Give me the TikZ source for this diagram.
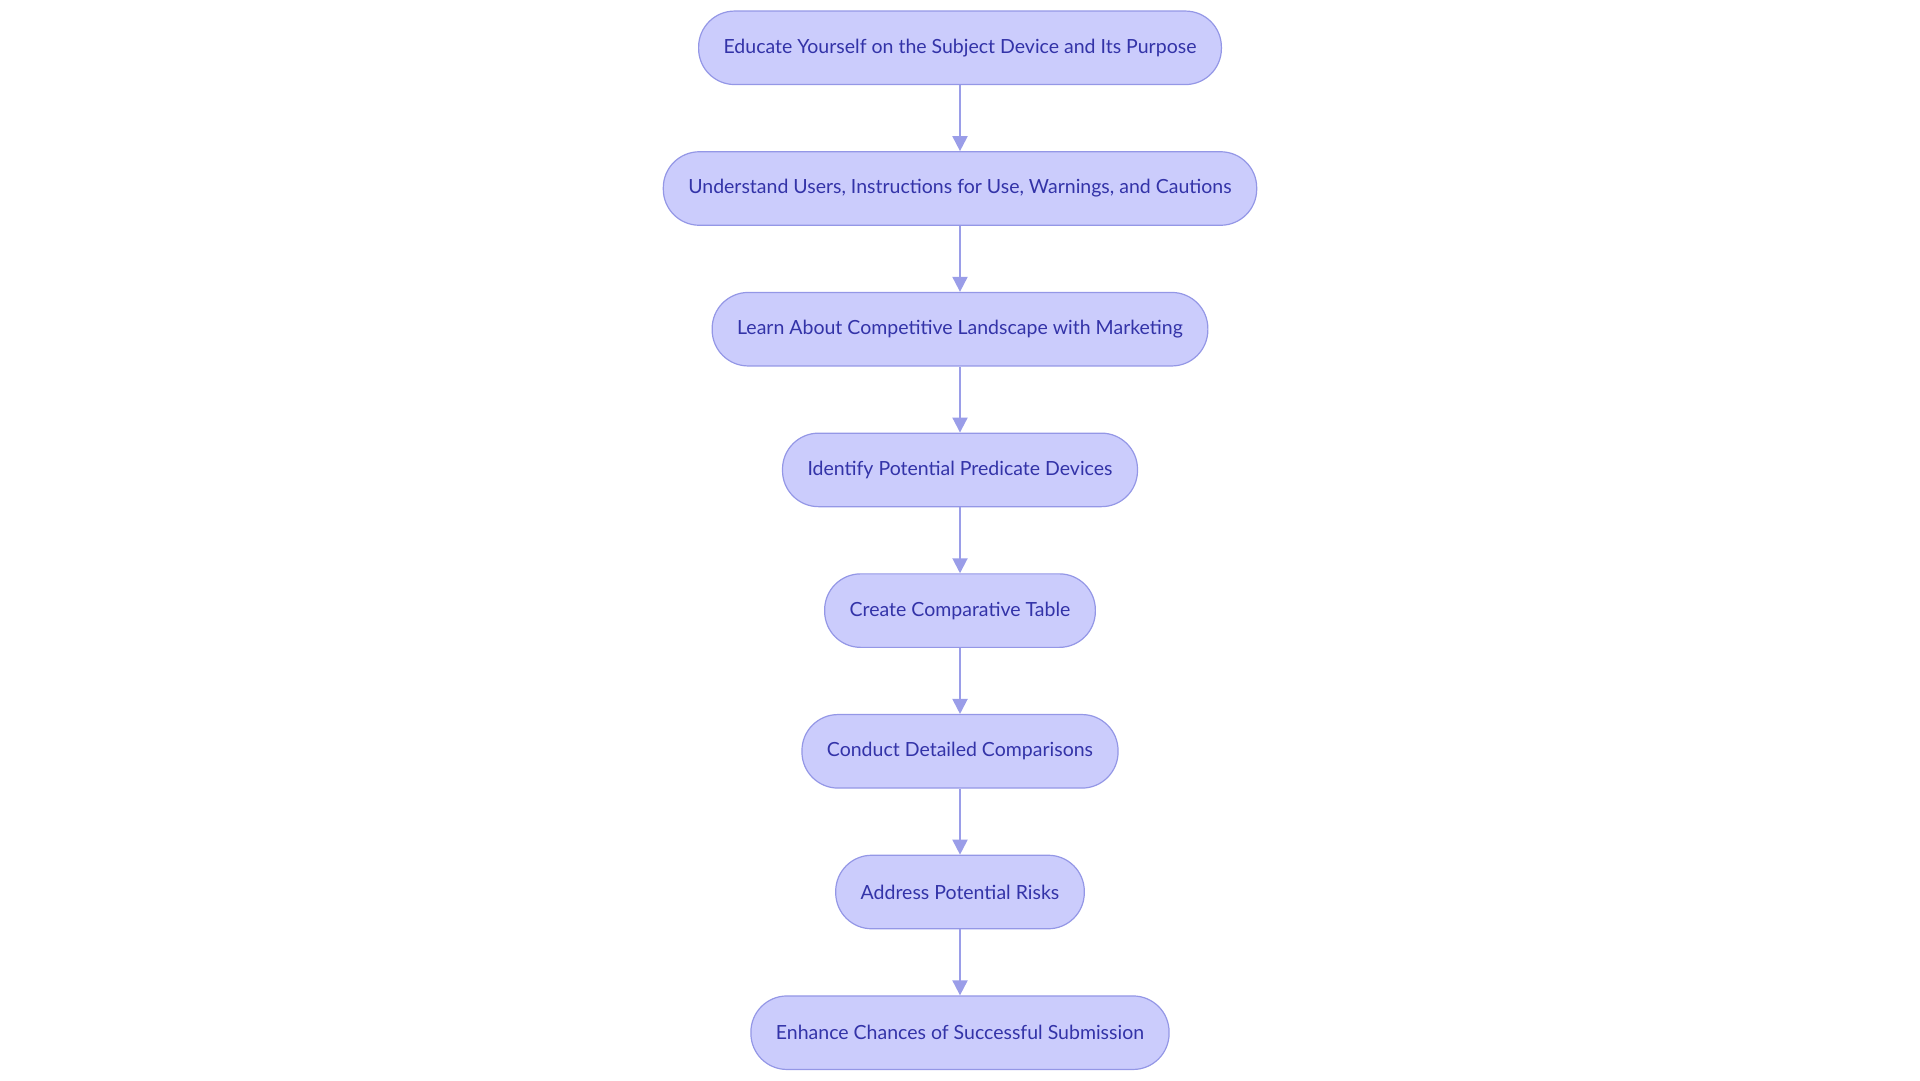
\documentclass[tikz,border=0pt]{standalone}
\usepackage{fontspec}
\setmainfont{Lato}
\usepackage{tikz}
\usetikzlibrary{arrows.meta, positioning}
\definecolor{stepfill}{HTML}{CBCCFC}
\definecolor{stepline}{HTML}{9497E6}
\definecolor{steptext}{HTML}{3333A8}
\definecolor{linkline}{HTML}{9A9DE8}
\tikzset{
  %% Pill shaped step box
  pill/.style={
    rectangle, rounded corners=36pt,
    draw=stepline, fill=stepfill, text=steptext,
    minimum height=73.5pt, inner xsep=25pt,
    font=\fontsize{19.5pt}{23pt}\selectfont,
    line width=1.2pt
  },
  %% Arrow
  arr/.style={-{Triangle[length=15pt,width=15pt]},
              draw=linkline, line width=2pt},
}
\begin{document}
\begin{tikzpicture}[x=1pt, y=1pt, node distance=66pt]
  \useasboundingbox (0,0) rectangle (1920,-1080);

  \node[pill] (educate) at (960,-47.8)
       {Educate Yourself on the Subject Device and Its Purpose};
  \node[pill, below=of educate] (users)
       {Understand Users, Instructions for Use, Warnings, and Cautions};
  \node[pill, below=of users] (market)
       {Learn About Competitive Landscape with Marketing};
  \node[pill, below=of market] (predicate)
       {Identify Potential Predicate Devices};
  \node[pill, below=of predicate] (table)
       {Create Comparative Table};
  \node[pill, below=of table] (compare)
       {Conduct Detailed Comparisons};
  \node[pill, below=of compare] (risks)
       {Address Potential Risks};
  \node[pill, below=of risks] (success)
       {Enhance Chances of Successful Submission};

  \foreach \a/\b in {educate/users, users/market, market/predicate,
                     predicate/table, table/compare, compare/risks,
                     risks/success}
    \draw[arr] (\a) -- (\b);

\end{tikzpicture}
\end{document}
